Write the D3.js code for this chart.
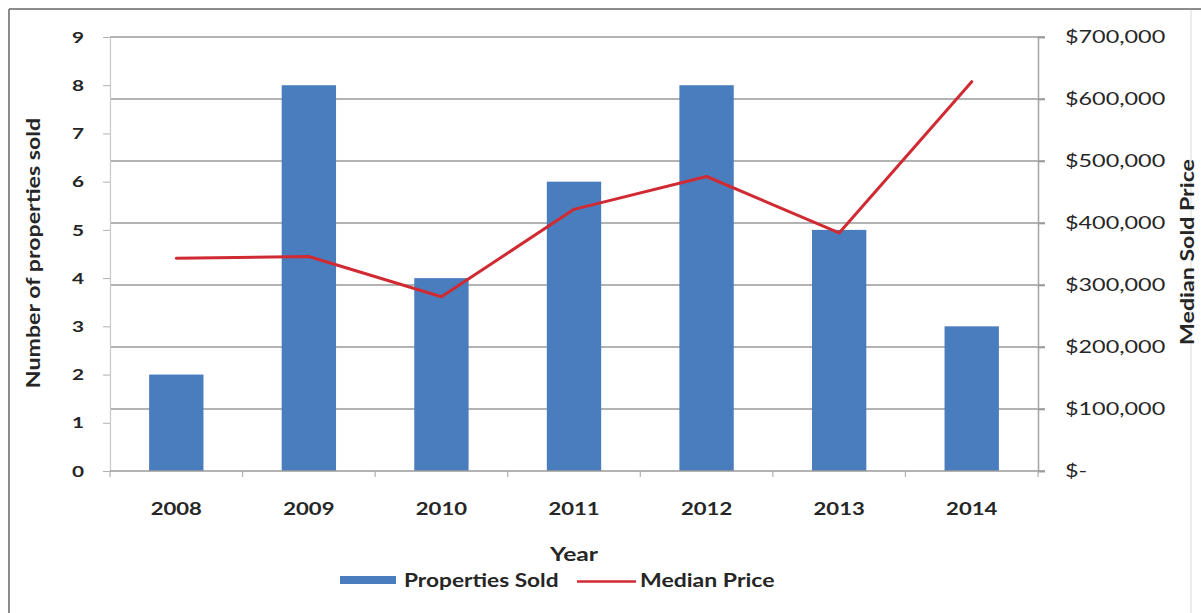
<!DOCTYPE html>
<html>
<head>
<meta charset="utf-8">
<script src="https://cdn.jsdelivr.net/npm/d3@7"></script>
<style>
  html, body { margin: 0; padding: 0; background: #fff; }
  svg { display: block; }
  text { font-family: Lato, "Open Sans", sans-serif; fill: #262626; }
</style>
</head>
<body>
<svg id="chart" width="1201" height="613"></svg>
<script>
// Sales by year: number of properties sold (bars, left axis)
// and the median sold price (line, right axis).
const years = ["2008", "2009", "2010", "2011", "2012", "2013", "2014"];
const propertiesSold = [2, 8, 4, 6, 8, 5, 3];
const medianPrice = [343000, 346000, 281000, 422000, 475000, 384000, 628000];
const leftTicks = [0, 1, 2, 3, 4, 5, 6, 7, 8, 9];
const rightTicks = [0, 100000, 200000, 300000, 400000, 500000, 600000, 700000];

const svg = d3.select("#chart");
const W = 1201, H = 613;
const plot = { left: 110, right: 1038, top: 37, bottom: 471 };
const SX = 1.3; // wide lettering used for all labels

// outer frame
svg.append("line").attr("x1", 9).attr("x2", 9).attr("y1", 9).attr("y2", H)
  .attr("stroke", "#8c8c8c").attr("stroke-width", 2);
svg.append("line").attr("x1", 9).attr("x2", W).attr("y1", 9).attr("y2", 9)
  .attr("stroke", "#8c8c8c").attr("stroke-width", 2);
svg.append("line").attr("x1", 1191).attr("x2", 1191).attr("y1", 10).attr("y2", H)
  .attr("stroke", "#e6e6e6").attr("stroke-width", 1.5);

const x = d3.scaleBand().domain(years).range([plot.left, plot.right]).paddingInner(0.59).paddingOuter(0.295);
const xCat = d3.scaleBand().domain(years).range([plot.left, plot.right]);
const yL = d3.scaleLinear().domain([0, 9]).range([plot.bottom, plot.top]);
const yR = d3.scaleLinear().domain([0, 700000]).range([plot.bottom, plot.top]);

// horizontal gridlines follow the price axis
svg.append("g")
  .selectAll("line").data(rightTicks.slice(1)).join("line")
  .attr("x1", plot.left).attr("x2", plot.right + 7)
  .attr("y1", d => yR(d)).attr("y2", d => yR(d))
  .attr("stroke", "#9a9a9a").attr("stroke-width", 1.6);

// bars
svg.append("g")
  .selectAll("rect").data(years).join("rect")
  .attr("x", d => x(d)).attr("width", x.bandwidth())
  .attr("y", (d, i) => yL(propertiesSold[i]))
  .attr("height", (d, i) => yL(0) - yL(propertiesSold[i]))
  .attr("fill", "#4a7dbd");

// left axis
const leftAxis = svg.append("g").attr("transform", `translate(${plot.left},0)`)
  .call(d3.axisLeft(yL).tickValues(leftTicks).tickSize(7).tickFormat(d3.format("d")));
leftAxis.select(".domain").attr("stroke", "#c8c8c8").attr("stroke-width", 1.2);
leftAxis.selectAll(".tick line").attr("stroke", "#b0b0b0");
leftAxis.selectAll(".tick text")
  .attr("x", 0).attr("transform", `translate(-26,0) scale(${SX},1)`)
  .attr("font-size", 16).attr("font-weight", "bold")
  .attr("font-family", "Lato, sans-serif").attr("fill", "#262626");

// right axis
const priceFmt = d => d === 0 ? "$-" : "$" + d3.format(",")(d);
const rightAxis = svg.append("g").attr("transform", `translate(${plot.right},0)`)
  .call(d3.axisRight(yR).tickValues(rightTicks).tickSize(7).tickFormat(priceFmt));
rightAxis.select(".domain").attr("stroke", "#a8a8a8").attr("stroke-width", 1.6);
rightAxis.selectAll(".tick line").attr("stroke", "#9a9a9a").attr("stroke-width", 1.6);
rightAxis.selectAll(".tick text")
  .attr("x", 0).attr("transform", `translate(27,0) scale(${SX},1)`)
  .attr("font-size", 18).attr("font-weight", "normal")
  .attr("font-family", "Lato, sans-serif").attr("fill", "#262626");

// category axis
svg.append("line").attr("x1", plot.left).attr("x2", plot.right + 7)
  .attr("y1", plot.bottom).attr("y2", plot.bottom)
  .attr("stroke", "#9a9a9a").attr("stroke-width", 1.6);
svg.append("g").selectAll("line").data(years.concat(["end"])).join("line")
  .attr("x1", (d, i) => plot.left + i * xCat.step())
  .attr("x2", (d, i) => plot.left + i * xCat.step())
  .attr("y1", plot.bottom).attr("y2", plot.bottom + 6)
  .attr("stroke", "#b0b0b0").attr("stroke-width", 1.2);
svg.append("g").selectAll("text").data(years).join("text")
  .attr("transform", d => `translate(${xCat(d) + xCat.bandwidth() / 2},515) scale(${SX},1)`)
  .attr("text-anchor", "middle")
  .attr("font-size", 17).attr("font-weight", "bold")
  .text(d => d);

// price line
const line = d3.line()
  .x((d, i) => xCat(years[i]) + xCat.bandwidth() / 2)
  .y(d => yR(d));
svg.append("path").datum(medianPrice)
  .attr("d", line)
  .attr("fill", "none").attr("stroke", "#d02a33").attr("stroke-width", 3)
  .attr("stroke-linejoin", "round").attr("stroke-linecap", "round");

// axis titles
svg.append("text").attr("transform", `translate(574,561) scale(${SX},1)`).attr("text-anchor", "middle")
  .attr("font-size", 19).attr("font-weight", "bold").text("Year");
svg.append("text")
  .attr("transform", `translate(40,253) rotate(-90) scale(1.22,1)`)
  .attr("text-anchor", "middle").attr("font-size", 19).attr("font-weight", "bold")
  .text("Number of properties sold");
svg.append("text")
  .attr("transform", `translate(1194,252) rotate(-90) scale(1.22,1)`)
  .attr("text-anchor", "middle").attr("font-size", 19).attr("font-weight", "bold")
  .text("Median Sold Price");

// legend
const legend = svg.append("g");
legend.append("rect").attr("x", 340).attr("y", 576).attr("width", 56).attr("height", 8).attr("fill", "#4a7dbd");
legend.append("text").attr("transform", "translate(404,587) scale(1.26,1)")
  .attr("font-size", 18).attr("font-weight", "bold")
  .text("Properties Sold");
legend.append("line").attr("x1", 577).attr("x2", 636).attr("y1", 581.5).attr("y2", 581.5)
  .attr("stroke", "#d02a33").attr("stroke-width", 2.5);
legend.append("text").attr("transform", "translate(640,587) scale(1.28,1)")
  .attr("font-size", 18).attr("font-weight", "bold")
  .text("Median Price");
</script>
</body>
</html>
